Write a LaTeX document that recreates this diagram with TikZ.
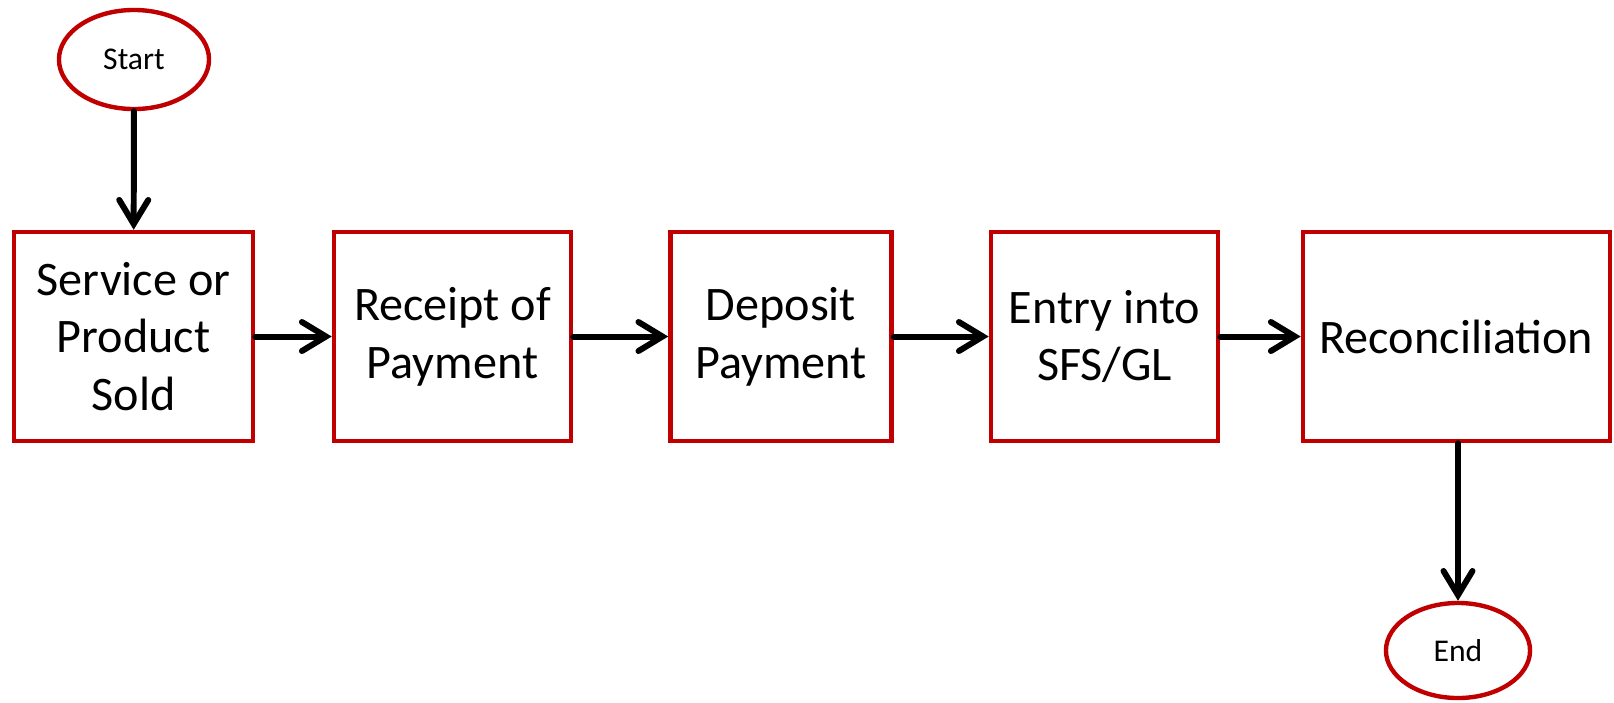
\documentclass[tikz,border=0pt]{standalone}
\usepackage{fontspec}
\setmainfont{Carlito}
\usetikzlibrary{shapes.geometric}
\usetikzlibrary{arrows.meta}
\definecolor{boxred}{RGB}{192,0,0}

\begin{document}
\begin{tikzpicture}[x=0.01cm,y=-0.01cm]
    \tikzset{
        stepbox/.style={draw=boxred,line width=1.25pt,align=center,
            minimum height=2.09cm,inner sep=0pt,
            font=\fontsize{13.7}{16.4}\selectfont},
        term/.style={ellipse,draw=boxred,line width=1.25pt,inner sep=0pt,
            font=\fontsize{9}{10}\selectfont},
        flow/.style={line width=1.7pt,line cap=round,
            -{Straight Barb[length=2.4mm,width=2.9mm,line cap=round]}}
    }
    \useasboundingbox (0,0) rectangle (1614,702);

    \node[term,minimum width=1.50cm,minimum height=0.99cm] (st) at (134,59.5) {Start};

    \node[stepbox,minimum width=2.39cm] (b1) at (133.5,336.5) {Service or\\Product\\Sold};
    \node[stepbox,minimum width=2.37cm] (b2) at (452.5,336.5) {Receipt of\\Payment};
    \node[stepbox,minimum width=2.21cm] (b3) at (781,336.5) {Deposit\\Payment};
    \node[stepbox,minimum width=2.27cm] (b4) at (1104.5,336.5) {Entry into\\SFS/GL};
    \node[stepbox,minimum width=3.07cm] (b5) at (1456.5,336.5) {Reconciliation};

    \node[term,minimum width=1.44cm,minimum height=0.95cm] (en) at (1458,650.5) {End};

    \draw[flow] (st) -- (b1);
    \draw[flow] (b1) -- (b2);
    \draw[flow] (b2) -- (b3);
    \draw[flow] (b3) -- (b4);
    \draw[flow] (b4) -- (b5);
    \draw[flow] (b5.south -| en.north) -- (en.north);
\end{tikzpicture}
\end{document}
